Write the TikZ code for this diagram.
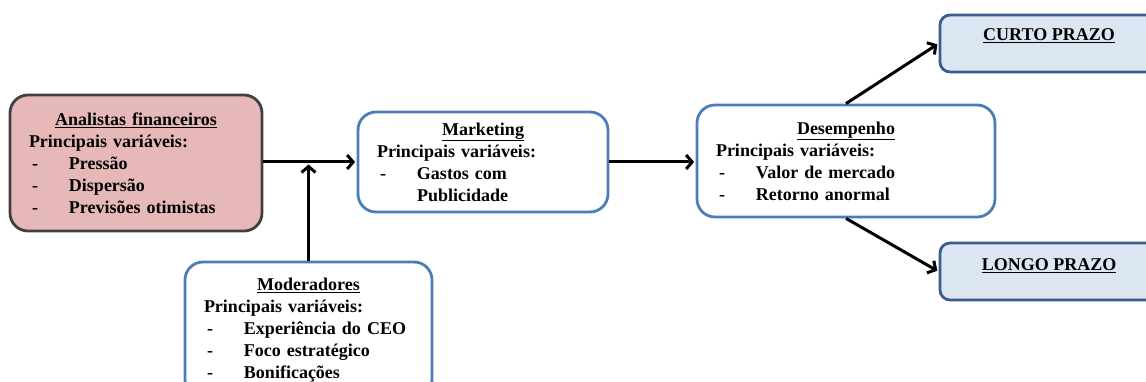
\documentclass[tikz,border=0pt]{standalone}
\usepackage{fontspec}
\setmainfont{Liberation Serif}
\usetikzlibrary{arrows.meta}
\definecolor{pinkfill}{HTML}{E6B9B8}
\definecolor{grayline}{HTML}{404040}
\definecolor{blueline}{HTML}{4A7EBB}
\definecolor{lightblue}{HTML}{DCE6F2}
\definecolor{darkblue}{HTML}{385D8A}
\newcommand{\itm}[1]{\par\noindent\makebox[40pt][l]{\hspace{3pt}-}#1}
\newcommand{\hdr}[1]{{\centering\underline{#1}\par}}
\begin{document}
\begin{tikzpicture}[x=1pt,y=-1pt,
  box/.style={draw=blueline, fill=white, rounded corners=18pt, line width=2.8pt,
    font=\bfseries\fontsize{18}{22}\selectfont, align=left, inner sep=0pt},
  pinkbox/.style={box, draw=grayline, fill=pinkfill},
  termbox/.style={draw=darkblue, fill=lightblue, rounded corners=10pt, line width=2.8pt,
    minimum width=220pt, minimum height=57pt, inner sep=0pt},
  termtext/.style={font=\bfseries\fontsize{18}{22}\selectfont, inner sep=0pt},
  arr/.style={line width=3pt, -{Straight Barb[length=6pt,width=14pt,line width=3pt]}}
]
\useasboundingbox (0,0) rectangle (1146,382);

\node[pinkbox, minimum width=252pt, minimum height=136pt, text width=214pt] (anal) at (136,163)
 {\hdr{Analistas financeiros}Principais variáveis:\itm{Pressão}\itm{Dispersão}\itm{Previsões otimistas}};

\node[box, minimum width=250pt, minimum height=100pt, text width=212pt] (mkt) at (483,162)
 {\hdr{Marketing}Principais variáveis:\itm{Gastos com}\par\noindent\hspace*{40pt}Publicidade};

\node[box, minimum width=298pt, minimum height=112pt, text width=260pt] (des) at (846,161)
 {\hdr{Desempenho}Principais variáveis:\itm{Valor de mercado}\itm{Retorno anormal}};

\node[box, minimum width=247pt, minimum height=136pt, text width=209pt] (mod) at (308.5,330)
 {\hdr{Moderadores}Principais variáveis:\itm{Experiência do CEO}\itm{Foco estratégico}\itm{Bonificações}};

\node[termbox] (curto) at (1050,43.5) {};
\node[termtext] (curtotxt) at (1049,36) {\underline{CURTO PRAZO}};
\node[termbox] (longo) at (1050,271.5) {};
\node[termtext] (longotxt) at (1049,266) {\underline{LONGO PRAZO}};

\draw[arr, shorten >=1.5pt] (anal.east |- mkt.west) -- (mkt.west);
\coordinate (join) at (mod.north |- mkt.west);
\draw[arr, shorten >=2.5pt] (mod.north) -- (join);
\draw[arr, shorten >=1.5pt] (mkt.east) -- (des.west |- mkt.east);
\draw[arr, shorten >=1.5pt] (des.north) -- (curto.west);
\draw[arr, shorten >=1.5pt] (des.south) -- (longo.west);
\end{tikzpicture}
\end{document}
